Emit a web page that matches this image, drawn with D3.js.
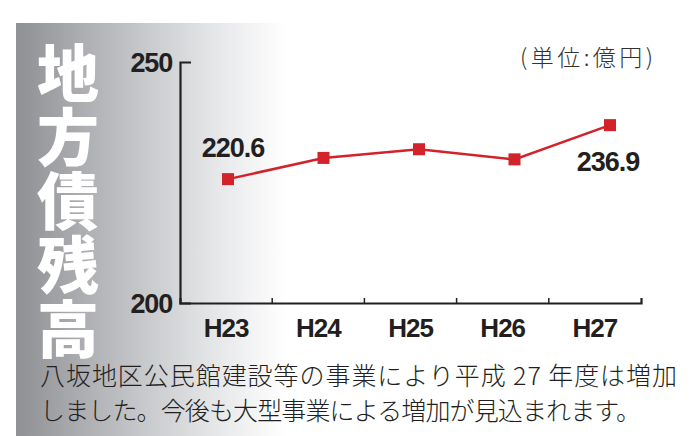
<!DOCTYPE html>
<html>
<head>
<meta charset="utf-8">
<script src="https://cdn.jsdelivr.net/npm/d3@7"></script>
<style>
  body { margin: 0; background: #fff; }
  svg { display: block; }
</style>
</head>
<body>
<div id="chart"></div>
<script>
'use strict';

// data
const years = ['H23', 'H24', 'H25', 'H26', 'H27'];
const debt = [225.7, 230.1, 231.9, 229.8, 236.9];
const yTicks = [200, 250];
const pointLabels = [
	{ idx: 0, text: '220.6' },
	{ idx: 4, text: '236.9' }
];
const titleChars = ['地', '方', '債', '残', '高'];
const unitText = '(単位:億円)';
const noteLines = [
	'八坂地区公民館建設等の事業により平成 27 年度は増加',
	'しました。今後も大型事業による増加が見込まれます。'
];

const W = 691, H = 436;
const ink = '#231f20';
const red = '#d2232a';
const jp = '"Noto Sans CJK JP", "Noto Sans", sans-serif';
const num = '"Liberation Sans", Arial, sans-serif';

// label offsets from their point, and widths of the note lines
const labelOffset = [[5, -22], [-2, 46]];
const noteWidth = [637, 601];

const svg = d3.select('#chart').append('svg')
	.attr('width', W)
	.attr('height', H);

// grey panel with gradient
const grad = svg.append('defs').append('linearGradient')
	.attr('id', 'panelGrad')
	.attr('x1', 0).attr('x2', 1).attr('y1', 0).attr('y2', 0);
grad.append('stop').attr('offset', 0).attr('stop-color', '#8f9094');
grad.append('stop').attr('offset', 0.4).attr('stop-color', '#bfc0c3');
grad.append('stop').attr('offset', 0.72).attr('stop-color', '#e4e5e7');
grad.append('stop').attr('offset', 1).attr('stop-color', '#ffffff');

svg.append('rect')
	.attr('x', 16).attr('y', 23)
	.attr('width', 270).attr('height', H - 23)
	.attr('fill', 'url(#panelGrad)');

// vertical title
svg.append('g').selectAll('text')
	.data(titleChars)
	.join('text')
	.attr('x', 68)
	.attr('y', (d, i) => 97 + i * 64)
	.attr('text-anchor', 'middle')
	.attr('font-family', jp)
	.attr('font-weight', 900)
	.attr('font-size', 62)
	.attr('fill', '#fff')
	.text(d => d);

// scales
const x = d3.scaleBand().domain(years).range([180, 641]);
const xp = d3.scalePoint().domain(years).range([228, 610]);
const y = d3.scaleLinear().domain([200, 250]).range([303, 62]);

// y axis
const yAxis = svg.append('g')
	.attr('transform', 'translate(180,0)')
	.call(d3.axisLeft(y)
		.tickValues(yTicks)
		.tickSizeInner(0)
		.tickSizeOuter(-11)
		.tickPadding(8));
yAxis.select('.domain').attr('stroke', ink).attr('stroke-width', 2.2);
yAxis.selectAll('text')
	.attr('font-family', num)
	.attr('font-weight', 'bold')
	.attr('font-size', 27)
	.attr('letter-spacing', -1.2)
	.attr('fill', ink)
	.attr('dy', '0.36em');

// x axis
const xAxis = svg.append('g')
	.attr('transform', 'translate(0,303)')
	.call(d3.axisBottom(x)
		.tickSizeInner(0)
		.tickSizeOuter(-5)
		.tickPadding(10));
xAxis.select('.domain').attr('stroke', ink).attr('stroke-width', 2.2);
xAxis.selectAll('.tick line').remove();
xAxis.selectAll('text')
	.attr('font-family', num)
	.attr('font-weight', 'bold')
	.attr('font-size', 26)
	.attr('letter-spacing', -1)
	.attr('fill', ink)
	.attr('dy', '0.93em');

// tick marks at band boundaries
xAxis.append('g').selectAll('line')
	.data(years.slice(1))
	.join('line')
	.attr('x1', d => x(d)).attr('x2', d => x(d))
	.attr('y1', 0).attr('y2', -5)
	.attr('stroke', ink)
	.attr('stroke-width', 1.5);

// line + markers
const line = d3.line()
	.x((d, i) => xp(years[i]))
	.y(d => y(d));

svg.append('path')
	.attr('d', line(debt))
	.attr('fill', 'none')
	.attr('stroke', red)
	.attr('stroke-width', 2.5);

svg.append('g').selectAll('rect')
	.data(debt)
	.join('rect')
	.attr('x', (d, i) => xp(years[i]) - 6)
	.attr('y', d => y(d) - 6)
	.attr('width', 12)
	.attr('height', 12)
	.attr('fill', red);

// value labels
svg.append('g').selectAll('text')
	.data(pointLabels)
	.join('text')
	.attr('x', (d, i) => xp(years[d.idx]) + labelOffset[i][0])
	.attr('y', (d, i) => y(debt[d.idx]) + labelOffset[i][1])
	.attr('text-anchor', 'middle')
	.attr('font-family', num)
	.attr('font-weight', 'bold')
	.attr('font-size', 27)
	.attr('letter-spacing', -1)
	.attr('fill', ink)
	.text(d => d.text);

// unit
svg.append('text')
	.attr('x', 520)
	.attr('y', 66)
	.attr('textLength', 133)
	.attr('lengthAdjust', 'spacing')
	.attr('font-family', jp)
	.attr('font-weight', 300)
	.attr('font-size', 23)
	.attr('fill', '#333')
	.text(unitText);

// note text
svg.append('g').selectAll('text')
	.data(noteLines)
	.join('text')
	.attr('x', 40)
	.attr('y', (d, i) => 385 + i * 35)
	.attr('textLength', (d, i) => noteWidth[i])
	.attr('lengthAdjust', 'spacing')
	.attr('font-family', jp)
	.attr('font-weight', 300)
	.attr('font-size', 25)
	.attr('fill', ink)
	.text(d => d);
</script>
</body>
</html>
